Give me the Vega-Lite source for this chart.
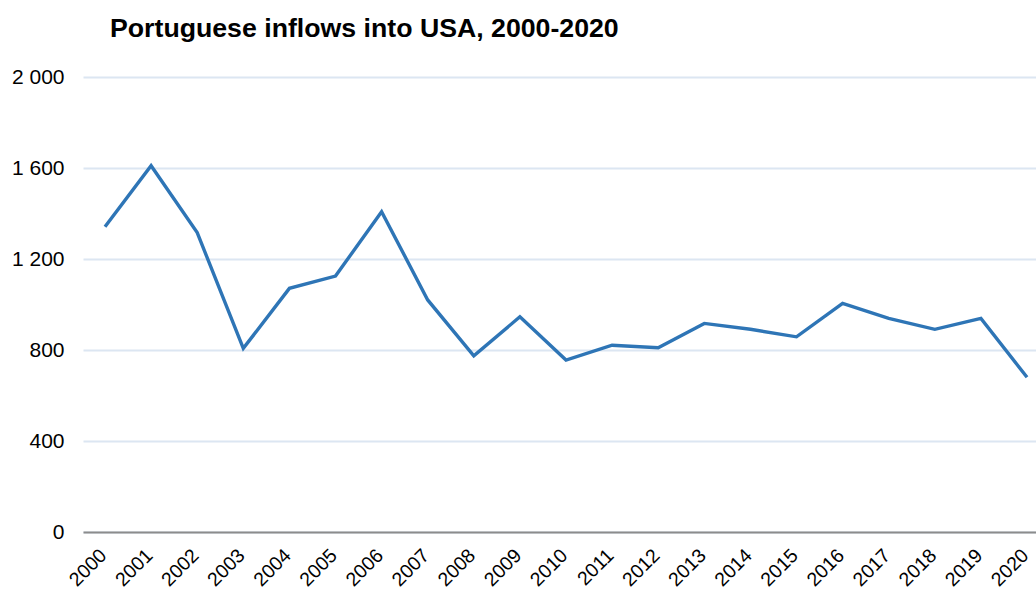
{
  "$schema": "https://vega.github.io/schema/vega-lite/v6.json",
  "autosize": {"type": "none"},
  "padding": {"left": 83, "top": 77, "right": 0, "bottom": 60},
  "width": 953,
  "height": 455,
  "background": "white",
  "title": {
    "text": "Portuguese inflows into USA, 2000-2020",
    "anchor": "start",
    "frame": "group",
    "dx": 27,
    "offset": 23,
    "font": "Liberation Sans",
    "fontSize": 26.7,
    "fontWeight": "bold",
    "color": "#000000"
  },
  "data": {
    "values": [
      {"year": "2000", "inflows": 1342},
      {"year": "2001", "inflows": 1610},
      {"year": "2002", "inflows": 1316},
      {"year": "2003", "inflows": 807},
      {"year": "2004", "inflows": 1071},
      {"year": "2005", "inflows": 1125},
      {"year": "2006", "inflows": 1408},
      {"year": "2007", "inflows": 1020},
      {"year": "2008", "inflows": 774},
      {"year": "2009", "inflows": 946},
      {"year": "2010", "inflows": 756},
      {"year": "2011", "inflows": 821},
      {"year": "2012", "inflows": 810},
      {"year": "2013", "inflows": 917},
      {"year": "2014", "inflows": 891},
      {"year": "2015", "inflows": 858},
      {"year": "2016", "inflows": 1005},
      {"year": "2017", "inflows": 939},
      {"year": "2018", "inflows": 891},
      {"year": "2019", "inflows": 939},
      {"year": "2020", "inflows": 680}
    ]
  },
  "config": {
    "view": {"stroke": null},
    "axis": {"labelFont": "Liberation Sans", "labelColor": "#000000"}
  },
  "mark": {"type": "line", "color": "#2e75b6", "strokeWidth": 3.4, "strokeJoin": "miter"},
  "encoding": {
    "x": {
      "field": "year",
      "type": "ordinal",
      "scale": {"type": "point", "padding": 0.336, "align": 0.71},
      "axis": {
        "title": null,
        "labelAngle": -45,
        "labelFontSize": 19.5,
        "labelAlign": "right",
        "labelBaseline": "middle",
        "labelPadding": 20,
        "labelOffset": -2,
        "ticks": false,
        "domain": true,
        "domainColor": "#8c8c8c",
        "domainWidth": 2,
        "grid": false
      }
    },
    "y": {
      "field": "inflows",
      "type": "quantitative",
      "scale": {"domain": [0, 2000]},
      "axis": {
        "title": null,
        "values": [0, 400, 800, 1200, 1600, 2000],
        "labelExpr": "replace(format(datum.value, ','), ',', ' ')",
        "labelFontSize": 21,
        "labelPadding": 19,
        "ticks": false,
        "domain": false,
        "grid": true,
        "gridColor": "#dce6f2",
        "gridWidth": 2
      }
    }
  }
}
